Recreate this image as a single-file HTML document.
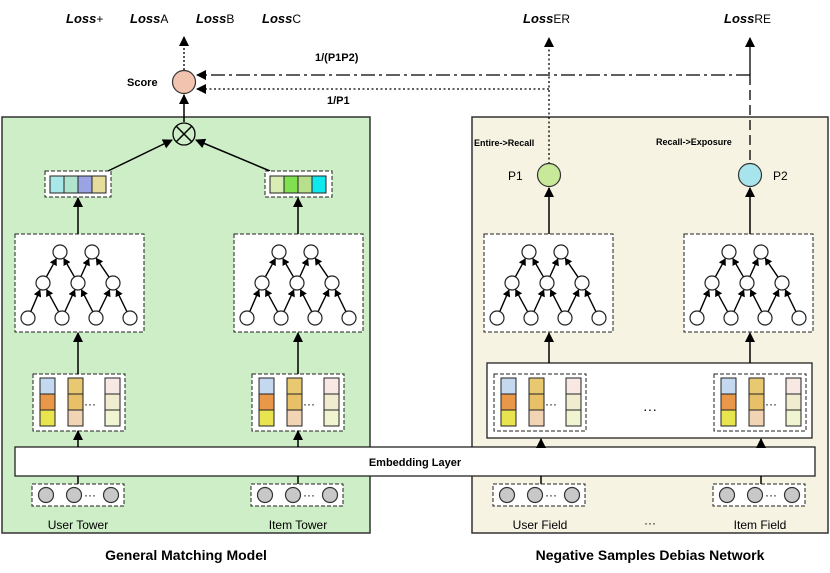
<!DOCTYPE html>
<html><head><meta charset="utf-8"><style>
body{margin:0;background:#fff;}
svg{display:block;font-family:"Liberation Sans",Arial,sans-serif;}
</style></head><body>
<svg id="s" width="830" height="573" viewBox="0 0 830 573" xmlns="http://www.w3.org/2000/svg">
<defs>
<marker id="a" markerWidth="10" markerHeight="10" refX="9" refY="5" orient="auto" markerUnits="userSpaceOnUse"><path d="M0,0 L10,5 L0,10 z" fill="#000"/></marker>
<marker id="b" markerWidth="7" markerHeight="8" refX="6.5" refY="4" orient="auto" markerUnits="userSpaceOnUse"><path d="M0,0 L7,4 L0,8 z" fill="#000"/></marker>
</defs>
<rect x="2" y="117" width="368" height="416" fill="#cdeec6" stroke="#333" stroke-width="1.5"/>
<rect x="472" y="117" width="356" height="416" fill="#f6f3e3" stroke="#333" stroke-width="1.5"/>

<!-- top losses -->
<g font-size="13" font-weight="bold" font-style="italic">
<text x="66" y="23">Loss<tspan font-weight="normal" font-style="normal" font-size="12">+</tspan></text>
<text x="130" y="23">Loss<tspan font-weight="normal" font-style="normal" font-size="12">A</tspan></text>
<text x="196" y="23">Loss<tspan font-weight="normal" font-style="normal" font-size="12">B</tspan></text>
<text x="262" y="23">Loss<tspan font-weight="normal" font-style="normal" font-size="12">C</tspan></text>
<text x="523" y="23">Loss<tspan font-weight="normal" font-style="normal" font-size="12">ER</tspan></text>
<text x="724" y="23">Loss<tspan font-weight="normal" font-style="normal" font-size="12">RE</tspan></text>
</g>
<line x1="184" y1="70" x2="184" y2="37" stroke="#000" stroke-width="1.3" stroke-dasharray="2,2" marker-end="url(#a)"/>
<text x="127" y="86" font-size="11" font-weight="bold">Score</text>
<circle cx="184" cy="82" r="11.5" fill="#f2c4b0" stroke="#333" stroke-width="1.2"/>
<!-- feedback lines -->
<path d="M750,75 L750,38" stroke="#000" stroke-width="1.3" fill="none" marker-end="url(#a)"/>
<line x1="750" y1="75" x2="197" y2="75" stroke="#000" stroke-width="1.3" stroke-dasharray="14,4,3,4" marker-end="url(#a)"/>
<line x1="750" y1="75" x2="750" y2="164" stroke="#000" stroke-width="1.3" stroke-dasharray="10,5"/>
<line x1="549" y1="89" x2="197" y2="89" stroke="#000" stroke-width="1.3" stroke-dasharray="2,2.5" marker-end="url(#a)"/>
<line x1="549" y1="164" x2="549" y2="38" stroke="#000" stroke-width="1.3" stroke-dasharray="2,2.5" marker-end="url(#a)"/>
<text x="315" y="61" font-size="11" font-weight="bold">1/(P1P2)</text>
<text x="327" y="104" font-size="11" font-weight="bold">1/P1</text>
<line x1="184" y1="122" x2="184" y2="95" stroke="#000" stroke-width="1.5" marker-end="url(#a)"/>
<circle cx="184" cy="134" r="11" fill="none" stroke="#000" stroke-width="1.3"/>
<path d="M176.5,126.5 L191.5,141.5 M191.5,126.5 L176.5,141.5" stroke="#000" stroke-width="1.5"/>
<line x1="108" y1="171" x2="172" y2="140" stroke="#000" stroke-width="1.5" marker-end="url(#a)"/>
<line x1="270" y1="171" x2="196" y2="140" stroke="#000" stroke-width="1.5" marker-end="url(#a)"/>

<!-- vector boxes -->
<rect x="45" y="171" width="66" height="26" fill="#fff" stroke="#222" stroke-dasharray="4,2"/>
<rect x="50" y="176" width="14" height="17" fill="#a8e8e8" stroke="#222"/>
<rect x="64" y="176" width="14" height="17" fill="#b0e4cc" stroke="#222"/>
<rect x="78" y="176" width="14" height="17" fill="#9aa4e4" stroke="#222"/>
<rect x="92" y="176" width="14" height="17" fill="#e6dc9c" stroke="#222"/>
<rect x="265" y="171" width="67" height="26" fill="#fff" stroke="#222" stroke-dasharray="4,2"/>
<rect x="270" y="176" width="14" height="17" fill="#d8ecb4" stroke="#222"/>
<rect x="284" y="176" width="14" height="17" fill="#80e050" stroke="#222"/>
<rect x="298" y="176" width="14" height="17" fill="#b8e08c" stroke="#222"/>
<rect x="312" y="176" width="14" height="17" fill="#10e8f0" stroke="#222"/>
<line x1="78" y1="234" x2="78" y2="198" stroke="#000" stroke-width="1.5" marker-end="url(#a)"/>
<line x1="298" y1="234" x2="298" y2="198" stroke="#000" stroke-width="1.5" marker-end="url(#a)"/>

<!-- P circles -->
<text x="474" y="146" font-size="9" font-weight="bold">Entire-&gt;Recall</text>
<text x="656" y="145" font-size="9" font-weight="bold">Recall-&gt;Exposure</text>
<text x="508" y="180" font-size="12">P1</text>
<text x="773" y="180" font-size="12">P2</text>
<circle cx="549" cy="175" r="11.5" fill="#c8e89a" stroke="#333" stroke-width="1.2"/>
<circle cx="750" cy="175" r="11.5" fill="#a8e4ec" stroke="#333" stroke-width="1.2"/>
<line x1="549" y1="234" x2="549" y2="188" stroke="#000" stroke-width="1.5" marker-end="url(#a)"/>
<line x1="750" y1="234" x2="750" y2="188" stroke="#000" stroke-width="1.5" marker-end="url(#a)"/>

<rect x="487" y="363" width="325" height="75" fill="#fff" stroke="#222" stroke-width="1.3"/>
<text x="650" y="414" font-size="14" text-anchor="middle">···</text>
<line x1="549" y1="363" x2="549" y2="333" stroke="#000" stroke-width="1.5" marker-end="url(#a)"/>
<line x1="750" y1="363" x2="750" y2="333" stroke="#000" stroke-width="1.5" marker-end="url(#a)"/>

<rect x="15" y="447" width="800" height="29" fill="#fff" stroke="#222" stroke-width="1.3"/>
<text x="415" y="466" font-size="11" font-weight="bold" text-anchor="middle">Embedding Layer</text>

<g id="dyn"></g>
<g font-size="12" text-anchor="middle">
<text x="78" y="529">User Tower</text>
<text x="298" y="529">Item Tower</text>
<text x="540" y="529">User Field</text>
<text x="650" y="527">···</text>
<text x="760" y="529">Item Field</text>
</g>
<g font-size="14" font-weight="bold" text-anchor="middle">
<text x="186" y="560">General Matching Model</text>
<text x="650" y="560">Negative Samples Debias Network</text>
</g>
</svg>
<script>
var NS="http://www.w3.org/2000/svg",g=document.getElementById("dyn");
function el(t,a){var e=document.createElementNS(NS,t);for(var k in a)e.setAttribute(k,a[k]);g.appendChild(e);return e;}
function tree(x){
 el("rect",{x:x,y:234,width:129,height:98,fill:"#fff",stroke:"#222","stroke-dasharray":"4,2"});
 var T=[[45,252],[77,252]],M=[[28,283],[63,283],[98,283]],B=[[13,318],[47,318],[81,318],[115,318]];
 var E=[[B[0],M[0]],[B[1],M[0]],[B[1],M[1]],[B[2],M[1]],[B[2],M[2]],[B[3],M[2]],[M[0],T[0]],[M[1],T[0]],[M[1],T[1]],[M[2],T[1]]];
 E.forEach(function(p){var x1=x+p[0][0],y1=p[0][1],x2=x+p[1][0],y2=p[1][1];var dx=x2-x1,dy=y2-y1,l=Math.sqrt(dx*dx+dy*dy);
  el("line",{x1:x1+dx/l*7,y1:y1+dy/l*7,x2:x2-dx/l*7.5,y2:y2-dy/l*7.5,stroke:"#000","stroke-width":1.4,"marker-end":"url(#b)"});});
 T.concat(M,B).forEach(function(c){el("circle",{cx:x+c[0],cy:c[1],r:7,fill:"#fff",stroke:"#222","stroke-width":1.2});});
}
[15,234,484,684].forEach(tree);
function field(x){
 el("rect",{x:x,y:374,width:92,height:57,fill:"#fff",stroke:"#222","stroke-dasharray":"4,2"});
 var cols=[[7,["#c4d8f0","#e89848","#e8e450"]],[35,["#e8c870","#e8c068","#f0d4b4"]],[72,["#f8e8e4","#f0ecd0","#f0f4d0"]]];
 cols.forEach(function(c){c[1].forEach(function(f,i){el("rect",{x:x+c[0],y:378+i*16,width:15,height:16,fill:f,stroke:"#222"});});});
 var t=el("text",{x:x+57,y:408,"font-size":12,"text-anchor":"middle"});t.textContent="···";
}
[33,252,494,714].forEach(field);
function inp(x,ax){
 el("line",{x1:ax,y1:484,x2:ax,y2:476,stroke:"#000","stroke-width":1.5});
 el("rect",{x:x,y:484,width:92,height:22,fill:"#fff",stroke:"#222","stroke-dasharray":"4,2"});
 [14,42,79].forEach(function(o){el("circle",{cx:x+o,cy:495,r:7.5,fill:"#c8c8c8",stroke:"#333","stroke-width":1.2});});
 var t=el("text",{x:x+58,y:499,"font-size":12,"text-anchor":"middle"});t.textContent="···";
}
inp(32,78);inp(251,298);inp(493,541);inp(713,761);
el("line",{x1:78,y1:447,x2:78,y2:431,stroke:"#000","stroke-width":1.5,"marker-end":"url(#a)"});
el("line",{x1:298,y1:447,x2:298,y2:431,stroke:"#000","stroke-width":1.5,"marker-end":"url(#a)"});
el("line",{x1:541,y1:447,x2:541,y2:439,stroke:"#000","stroke-width":1.5,"marker-end":"url(#a)"});
el("line",{x1:761,y1:447,x2:761,y2:439,stroke:"#000","stroke-width":1.5,"marker-end":"url(#a)"});
el("line",{x1:78,y1:374,x2:78,y2:333,stroke:"#000","stroke-width":1.5,"marker-end":"url(#a)"});
el("line",{x1:298,y1:374,x2:298,y2:333,stroke:"#000","stroke-width":1.5,"marker-end":"url(#a)"});
</script>
</body></html>
